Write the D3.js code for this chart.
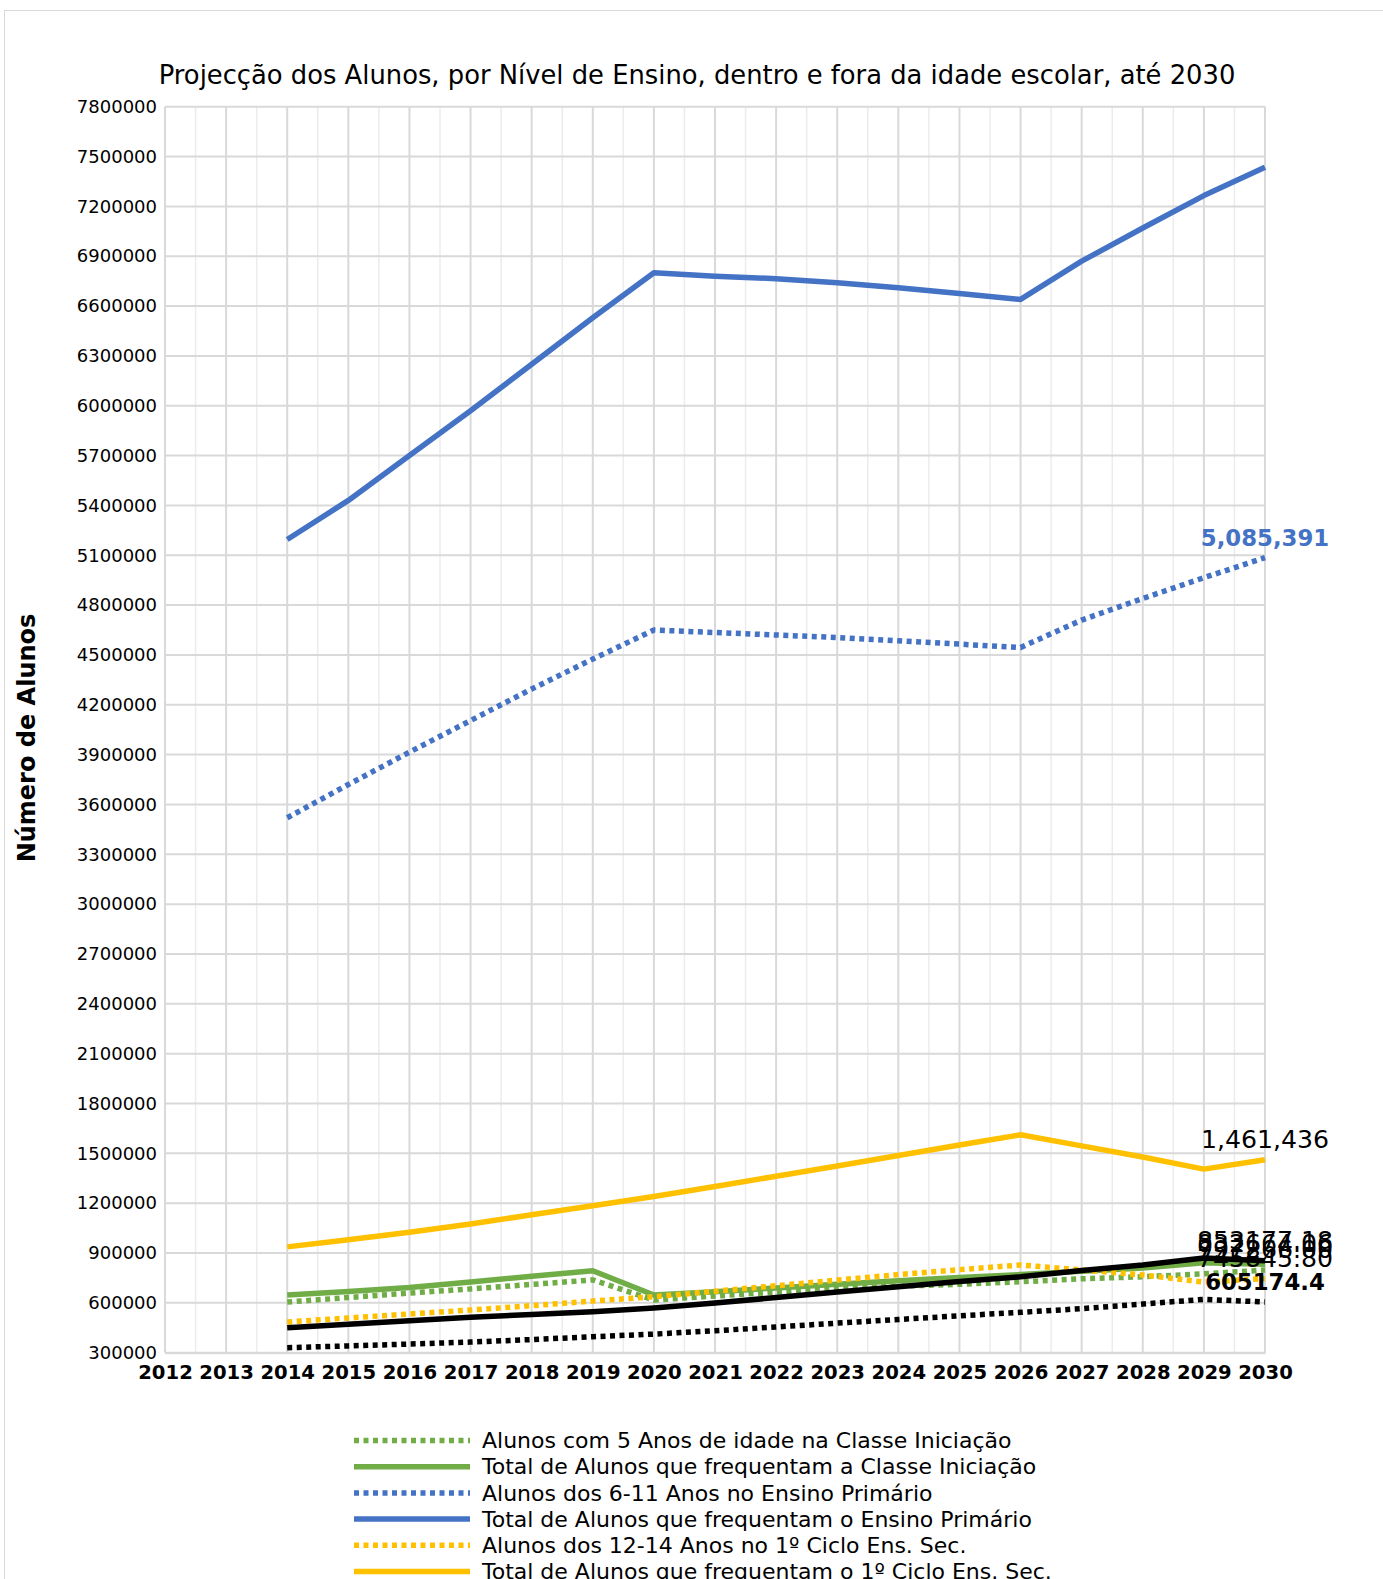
<!DOCTYPE html>
<html>
<head>
<meta charset="utf-8">
<script src="https://cdn.jsdelivr.net/npm/d3@7"></script>
<style>
  body { margin: 0; background: #fff; }
  svg { font-family: "DejaVu Sans", sans-serif; }
</style>
</head>
<body>
<div id="chart"></div>
<script>
// years on the category axis
let years = [2012, 2013, 2014, 2015, 2016, 2017, 2018, 2019, 2020, 2021, 2022, 2023, 2024, 2025, 2026, 2027, 2028, 2029, 2030]

// series values (2012 and 2013 are empty)
let alunos5Anos = [null, null, 605000, 632000, 659000, 684000, 711000, 738000, 617000, 641000, 665000, 688000, 700000, 712000, 727000, 745000, 757000, 775000, 797266.00]
let totalIniciacao = [null, null, 647000, 668000, 692000, 725000, 760000, 793000, 647000, 667000, 690000, 712000, 733000, 752000, 770000, 790000, 810000, 842000, 832664.06]
let alunos6a11 = [null, null, 3520000, 3720000, 3915000, 4105000, 4295000, 4475000, 4650000, 4635000, 4620000, 4605000, 4585000, 4565000, 4545000, 4710000, 4840000, 4965000, 5085391]
let totalPrimario = [null, null, 5195000, 5430000, 5700000, 5970000, 6250000, 6530000, 6800000, 6780000, 6765000, 6740000, 6710000, 6675000, 6640000, 6870000, 7070000, 7265000, 7435000]
let alunos12a14 = [null, null, 485000, 509000, 533000, 557000, 583000, 611000, 637000, 670000, 703000, 737000, 770000, 800000, 828000, 798000, 768000, 725000, 745845.80]
let total1Ciclo = [null, null, 937000, 980000, 1025000, 1075000, 1130000, 1185000, 1240000, 1300000, 1362000, 1424000, 1487000, 1550000, 1612000, 1545000, 1478000, 1405000, 1461436]
let alunos15a17 = [null, null, 330000, 341000, 352000, 364000, 379000, 396000, 412000, 432000, 455000, 478000, 500000, 522000, 543000, 565000, 593000, 621000, 605174.4]
let total2Ciclo = [null, null, 450000, 471000, 493000, 513000, 530000, 547000, 569000, 599000, 632000, 665000, 697000, 728000, 757000, 795000, 828000, 870000, 853177.18]

let seriesNames = [
  "Alunos com 5 Anos de idade na Classe Iniciação",
  "Total de Alunos que frequentam a Classe Iniciação",
  "Alunos dos 6-11 Anos no Ensino Primário",
  "Total de Alunos que frequentam o Ensino Primário",
  "Alunos dos 12-14 Anos no 1º Ciclo Ens. Sec.",
  "Total de Alunos que frequentam o 1º Ciclo Ens. Sec.",
  "Alunos dos 15-17 Anos no 2º Ciclo Ens. Sec.",
  "Total de Alunos que frequentam o 2º Ciclo Ens. Sec."
]
let seriesValues = [alunos5Anos, totalIniciacao, alunos6a11, totalPrimario, alunos12a14, total1Ciclo, alunos15a17, total2Ciclo]
let seriesColors = ["#70AD47", "#70AD47", "#4472C4", "#4472C4", "#FFC000", "#FFC000", "#000000", "#000000"]
let seriesDotted = [true, false, true, false, true, false, true, false]

// data labels on the last point
let labelTexts = ["797266.00", "832664.06", "5,085,391", null, "745845.80", "1,461,436", "605174.4", "853177.18"]

let yTicks = d3.range(300000, 7800001, 300000)

let W = 1383, H = 1579
let svg = d3.select("#chart").append("svg")
  .attr("width", W)
  .attr("height", H)

// chart frame
svg.append("rect")
  .attr("x", 4.5).attr("y", 10.5)
  .attr("width", 1385).attr("height", 1700)
  .attr("fill", "#fff")
  .attr("stroke", "#d9d9d9")

let plotLeft = 165, plotRight = 1265, plotTop = 106.7, plotBottom = 1352.7

let x = d3.scalePoint().domain(years).range([plotLeft, plotRight])
let y = d3.scaleLinear().domain([300000, 7800000]).range([plotBottom, plotTop])
let step = x.step()

// minor vertical gridlines (between years)
svg.append("g").selectAll("line")
  .data(years.slice(1))
  .enter().append("line")
  .attr("x1", d => x(d) - step / 2).attr("x2", d => x(d) - step / 2)
  .attr("y1", plotTop).attr("y2", plotBottom)
  .attr("stroke", "#ececec").attr("stroke-width", 1.5)

// major vertical gridlines
svg.append("g").selectAll("line")
  .data(years)
  .enter().append("line")
  .attr("x1", d => x(d)).attr("x2", d => x(d))
  .attr("y1", plotTop).attr("y2", plotBottom)
  .attr("stroke", "#d9d9d9").attr("stroke-width", 2)

// y axis + horizontal gridlines
let yAxis = svg.append("g")
  .attr("transform", `translate(${plotLeft},0)`)
  .call(d3.axisLeft(y).tickValues(yTicks).tickFormat(d3.format("d")).tickSize(0).tickPadding(8))
yAxis.select(".domain").remove()
yAxis.selectAll("text").attr("font-size", 18).attr("fill", "#000").attr("font-family", "DejaVu Sans")
svg.append("g").selectAll("line")
  .data(yTicks)
  .enter().append("line")
  .attr("x1", plotLeft).attr("x2", plotRight)
  .attr("y1", d => y(d)).attr("y2", d => y(d))
  .attr("stroke", "#d9d9d9").attr("stroke-width", 2)

// x axis
let xAxis = svg.append("g")
  .attr("transform", `translate(0,${plotBottom})`)
  .call(d3.axisBottom(x).tickSize(0).tickPadding(12))
xAxis.select(".domain").attr("stroke", "#d9d9d9").attr("stroke-width", 2)
xAxis.selectAll("text").attr("font-size", 19.6).attr("font-weight", "bold").attr("fill", "#000").attr("font-family", "DejaVu Sans")

// lines
let line = d3.line()
  .defined(d => d != null)
  .x((d, i) => x(years[i]))
  .y(d => y(d))

svg.append("g").selectAll("path")
  .data(seriesValues)
  .enter().append("path")
  .attr("d", line)
  .attr("fill", "none")
  .attr("stroke", (d, i) => seriesColors[i])
  .attr("stroke-width", 5.5)
  .attr("stroke-dasharray", (d, i) => seriesDotted[i] ? "5,4.5" : null)
  .attr("stroke-linejoin", "round")

// data labels at 2030
let last = years.length - 1
let labelData = seriesValues.map((v, i) => ({ v: v[last], text: labelTexts[i], i: i }))
  .filter(d => d.text != null)
let boldLabel = d => d.i == 2 || d.i == 6

svg.append("g").selectAll("text")
  .data(labelData)
  .enter().append("text")
  .attr("x", x(years[last]))
  .attr("y", d => y(d.v) - 12)
  .attr("text-anchor", "middle")
  .attr("font-size", d => boldLabel(d) ? 22.8 : 25.2)
  .attr("font-weight", d => boldLabel(d) ? "bold" : "normal")
  .attr("fill", d => d.i == 2 ? "#4472C4" : "#000")
  .text(d => d.text)

// title
svg.append("text")
  .attr("x", 697).attr("y", 84)
  .attr("text-anchor", "middle")
  .attr("font-size", 25.8)
  .text("Projecção dos Alunos, por Nível de Ensino, dentro e fora da idade escolar, até 2030")

// y axis title
svg.append("text")
  .attr("transform", "translate(35,738) rotate(-90)")
  .attr("text-anchor", "middle")
  .attr("font-size", 24)
  .attr("font-weight", "bold")
  .text("Número de Alunos")

// legend
let legend = svg.append("g").selectAll("g")
  .data(seriesNames)
  .enter().append("g")
  .attr("transform", (d, i) => `translate(354,${1440.5 + i * 26.2})`)
legend.append("line")
  .attr("x1", 0).attr("x2", 116)
  .attr("stroke", (d, i) => seriesColors[i])
  .attr("stroke-width", 5.5)
  .attr("stroke-dasharray", (d, i) => seriesDotted[i] ? "5,4.5" : null)
legend.append("text")
  .attr("x", 128).attr("dy", "0.35em")
  .attr("font-size", 22)
  .text(d => d)
</script>
</body>
</html>
